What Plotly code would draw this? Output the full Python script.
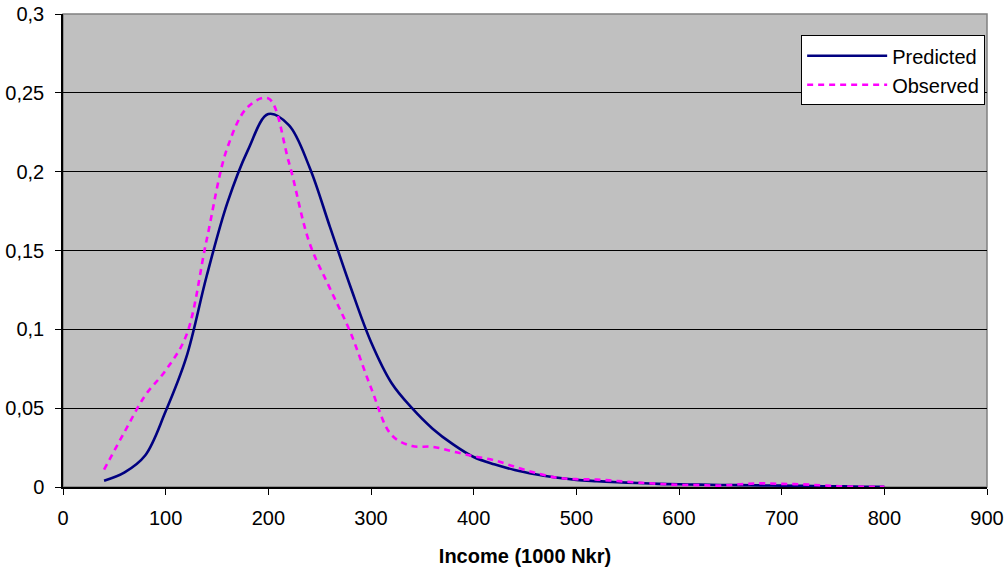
import plotly.graph_objects as go

income = [40, 60, 80, 100, 120, 140, 160, 180, 200, 220, 240, 260, 280, 300, 320, 340,
          360, 380, 400, 420, 440, 460, 480, 500, 520, 540, 560, 580, 600, 620, 640, 660,
          680, 700, 720, 740, 760, 780, 800]

predicted = [0.004, 0.0093, 0.020, 0.048, 0.082, 0.134, 0.180, 0.2135, 0.2365, 0.2295,
             0.203, 0.165, 0.127, 0.092, 0.066, 0.050, 0.037, 0.027, 0.019, 0.0144,
             0.0108, 0.0081, 0.006, 0.0045, 0.0037, 0.003, 0.0025, 0.002, 0.0017, 0.0015,
             0.0013, 0.0012, 0.001, 0.0009, 0.0007, 0.0005, 0.0004, 0.0002, 0.0001]

observed = [0.011, 0.035, 0.058, 0.074, 0.096, 0.157, 0.215, 0.241, 0.2465, 0.206,
            0.155, 0.126, 0.098, 0.063, 0.033, 0.026, 0.0255, 0.0225, 0.0195, 0.017,
            0.0128, 0.009, 0.006, 0.005, 0.0047, 0.0038, 0.0028, 0.002, 0.0013, 0.0012,
            0.0009, 0.0017, 0.0023, 0.002, 0.0017, 0.001, 0.0004, 0.0002, 0.0001]

x_ticks = [0, 100, 200, 300, 400, 500, 600, 700, 800, 900]
y_ticks = [0, 0.05, 0.1, 0.15, 0.2, 0.25, 0.3]

FONT = "Liberation Sans, Arial, sans-serif"
FS = 20

fig = go.Figure()
fig.add_trace(go.Scatter(x=income, y=predicted, name="Predicted", mode="lines",
                         line=dict(color="#000080", width=2.6, shape="spline", smoothing=1.0)))
fig.add_trace(go.Scatter(x=income, y=observed, name="Observed", mode="lines",
                         line=dict(color="#FF00FF", width=2.6, dash="6px,5px",
                                   shape="spline", smoothing=1.0)))

fig.update_layout(
    width=1006, height=570,
    margin=dict(l=63, r=19, t=14, b=83, autoexpand=False),
    paper_bgcolor="white",
    plot_bgcolor="#C0C0C0",
    separators=",.",
    font=dict(family=FONT, size=FS, color="black"),
    showlegend=True,
    legend=dict(x=0.998, xanchor="right", y=0.955, yanchor="top",
                bgcolor="white", bordercolor="black", borderwidth=1,
                font=dict(family=FONT, size=FS, color="black"),
                itemwidth=80, tracegroupgap=0),
    shapes=[dict(type="rect", xref="paper", yref="paper", x0=0, y0=0, x1=1, y1=1,
                 line=dict(color="#808080", width=1.5), layer="below")],
)

fig.update_xaxes(range=[0, 900], tickvals=x_ticks, ticks="outside", ticklen=6,
                 tickcolor="black", showgrid=False, zeroline=False, automargin=False,
                 showline=True, linecolor="black", linewidth=1.5, ticklabelstandoff=6,
                 title=dict(text="<b>Income (1000 Nkr)</b>", font=dict(size=FS), standoff=21),
                 tickfont=dict(size=FS))
fig.update_yaxes(range=[0, 0.3], tickvals=y_ticks, ticks="outside", ticklen=6,
                 tickcolor="black", showgrid=True, gridcolor="black", gridwidth=1,
                 zeroline=False, showline=True, linecolor="black", linewidth=1.5,
                 ticklabelstandoff=7, automargin=False, tickfont=dict(size=FS))

fig.write_html("out.html", config={"displayModeBar": False},
               post_script="document.body.style.margin='0';document.body.style.overflow='hidden';")
